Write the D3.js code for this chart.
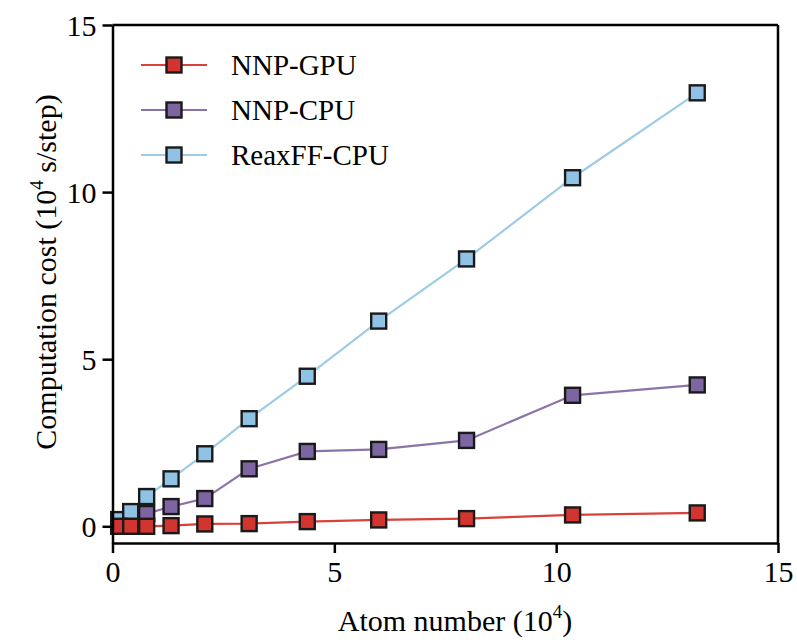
<!DOCTYPE html>
<html>
<head>
    <meta charset="UTF-8">
    <title>Computation cost</title>
</head>
<body style="margin:0">
    <script src="https://d3js.org/d3.v7.min.js"></script>
    <script type="text/javascript">
        // atom number (10^4)
        const atoms = [0.14, 0.41, 0.77, 1.32, 2.08, 3.08, 4.39, 6.0, 7.98, 10.37, 13.18];

        // computation cost (10^4 s/step)
        const nnpGpu = [0.0, 0.0, 0.0, 0.02, 0.07, 0.08, 0.14, 0.19, 0.23, 0.34, 0.40];
        const nnpCpu = [0.03, 0.13, 0.38, 0.59, 0.83, 1.72, 2.24, 2.30, 2.57, 3.92, 4.23];
        const reaxCpu = [0.2, 0.44, 0.89, 1.42, 2.17, 3.22, 4.49, 6.14, 8.0, 10.43, 12.97];

        const seriesNames = ['NNP-GPU', 'NNP-CPU', 'ReaxFF-CPU'];
        const xTicks = [0, 5, 10, 15];
        const yTicks = [0, 5, 10, 15];

        const FONT = "'Liberation Serif'";

        const series = [
            { name: seriesNames[0], values: nnpGpu, line: '#d9413b', fill: '#d2352f' },
            { name: seriesNames[1], values: nnpCpu, line: '#8c74a8', fill: '#7c65a1' },
            { name: seriesNames[2], values: reaxCpu, line: '#9ecbe6', fill: '#8fc2e5' }
        ];

        const margin = { top: 25, right: 19, bottom: 101, left: 112.5 },
              width = 797 - margin.left - margin.right,
              height = 644 - margin.top - margin.bottom;

        const svg = d3.select('body').append('svg')
                      .attr('width', 797)
                      .attr('height', 644);

        const g = svg.append('g')
                     .attr('transform', `translate(${margin.left},${margin.top})`);

        // scales
        const x = d3.scaleLinear().domain([0, 15]).range([0, width]);
        const y = d3.scaleLinear().domain([-0.5, 15]).range([height, 0]);

        const markerSize = 15;

        // draw order: CPU, ReaxFF, GPU on top
        const drawOrder = [series[1], series[2], series[0]];

        drawOrder.forEach(s => {
            const pts = atoms.map((a, i) => ({ x: a, y: s.values[i] }));

            g.append('path')
                .datum(pts)
                .attr('fill', 'none')
                .attr('stroke', s.line)
                .attr('stroke-width', 2.2)
                .attr('d', d3.line().x(d => x(d.x)).y(d => y(d.y)));

            g.selectAll(null)
                .data(pts)
                .enter()
                .append('rect')
                .attr('x', d => x(d.x) - markerSize / 2)
                .attr('y', d => y(d.y) - markerSize / 2)
                .attr('width', markerSize)
                .attr('height', markerSize)
                .attr('fill', s.fill)
                .attr('stroke', '#1a1a1a')
                .attr('stroke-width', 2.4);
        });

        // axes
        const xAxis = d3.axisBottom(x).tickValues(xTicks).tickSize(10).tickSizeOuter(0).tickPadding(7);
        const yAxis = d3.axisLeft(y).tickValues(yTicks).tickSize(10).tickSizeOuter(0).tickPadding(6);

        const gx = g.append('g')
            .attr('transform', `translate(0,${height})`)
            .call(xAxis);

        const gy = g.append('g')
            .call(yAxis);

        [gx, gy].forEach(ax => {
            ax.attr('font-family', null).attr('font-size', null);
            ax.selectAll('path, line').attr('stroke', '#000').attr('stroke-width', 2.5);
            ax.selectAll('text')
                .attr('fill', '#000')
                .style('font-family', FONT)
                .style('font-size', '30px');
        });
        gx.selectAll('text').attr('dy', '0.72em');
        gy.selectAll('text').attr('dy', '0.34em');

        // top and right frame
        g.append('line')
            .attr('x1', 0).attr('x2', width)
            .attr('y1', 0).attr('y2', 0)
            .attr('stroke', '#000').attr('stroke-width', 2.5);
        g.append('line')
            .attr('x1', width).attr('x2', width)
            .attr('y1', 0).attr('y2', height)
            .attr('stroke', '#000').attr('stroke-width', 2.5);

        // axis titles
        const xTitle = svg.append('text')
            .attr('x', 455)
            .attr('y', 631)
            .attr('text-anchor', 'middle')
            .style('font-family', FONT)
            .style('font-size', '30px');
        xTitle.append('tspan').text('Atom number (10');
        xTitle.append('tspan').attr('dy', -13).style('font-size', '19px').text('4');
        xTitle.append('tspan').attr('dy', 13).text(')');

        const yTitle = svg.append('text')
            .attr('transform', 'translate(56,272) rotate(-90)')
            .attr('text-anchor', 'middle')
            .style('font-family', FONT)
            .style('font-size', '30px');
        yTitle.append('tspan').text('Computation cost (10');
        yTitle.append('tspan').attr('dy', -13).style('font-size', '19px').text('4');
        yTitle.append('tspan').attr('dy', 13).text(' s/step)');

        // legend
        const legend = svg.append('g')
            .attr('transform', 'translate(141,65)');

        series.forEach((s, i) => {
            const row = legend.append('g').attr('transform', `translate(0,${i * 45})`);
            row.append('line')
                .attr('x1', 0).attr('x2', 66)
                .attr('y1', 0).attr('y2', 0)
                .attr('stroke', s.line)
                .attr('stroke-width', 2.2);
            row.append('rect')
                .attr('x', 33 - markerSize / 2)
                .attr('y', -markerSize / 2)
                .attr('width', markerSize)
                .attr('height', markerSize)
                .attr('fill', s.fill)
                .attr('stroke', '#1a1a1a')
                .attr('stroke-width', 2.4);
            row.append('text')
                .attr('x', 90)
                .attr('y', 0)
                .attr('dy', '0.34em')
                .style('font-family', FONT)
                .style('font-size', '29px')
                .text(s.name);
        });
    </script>
</body>
</html>
